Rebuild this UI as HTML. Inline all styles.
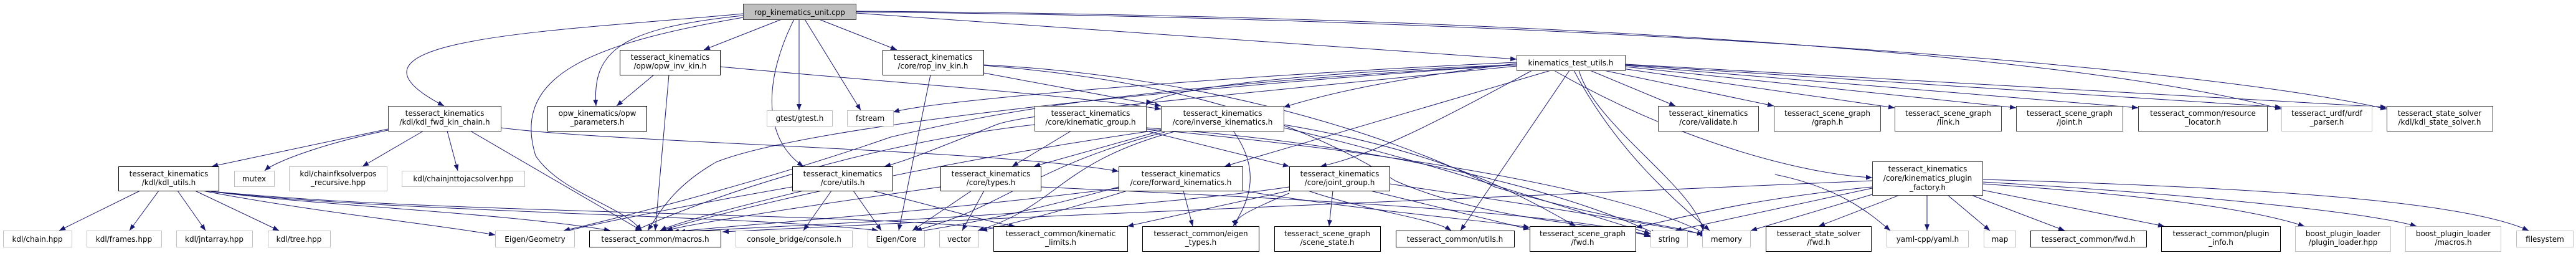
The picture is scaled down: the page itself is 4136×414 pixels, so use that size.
<!DOCTYPE html>
<html><head><meta charset="utf-8"><style>
html,body{margin:0;padding:0;background:#fff}
svg text{font-family:"DejaVu Sans","Liberation Sans",sans-serif;font-size:12px;fill:#000}
</style></head><body>
<svg width="4136" height="409" viewBox="0 0 4136 409" xmlns="http://www.w3.org/2000/svg">
<defs><marker id="a" viewBox="0 0 10 10" refX="10" refY="5" markerWidth="10" markerHeight="10" markerUnits="userSpaceOnUse" orient="auto"><path d="M0,1 L10,5 L0,9 z" fill="#191970"/></marker></defs>
<g fill="none" stroke="#191970" stroke-width="1" marker-end="url(#a)">
<!-- root -->
<path d="M1193,22 C900,50 500,60 713,170"/>
<path d="M1193,25 C1000,45 950,80 957,170"/>
<path d="M1193,28 C950,70 820,120 860,250 C900,310 1000,330 1030,370"/>
<path d="M1255,31 L1130,80"/>
<path d="M1275,31 C1230,120 1220,220 1290,267"/>
<path d="M1283,31 L1283,177"/>
<path d="M1292,31 L1382,177"/>
<path d="M1315,31 L1440,80"/>
<path d="M1374,21 L2435,95"/>
<path d="M1374,19 C2500,30 3500,100 3832,175"/>
<path d="M1374,18 C2400,25 3300,80 3663,175"/>
<!-- kdl_fwd_kin_chain -->
<path d="M623,207 L340,267"/>
<path d="M623,209 C520,230 440,260 425,274"/>
<path d="M680,210 L582,267"/>
<path d="M718,210 L735,274"/>
<path d="M755,210 L1030,370"/>
<path d="M804,205 C1000,230 1600,240 1796,275"/>
<!-- kdl_utils -->
<path d="M225,306 L95,370"/><path d="M255,306 L208,370"/><path d="M285,306 L330,370"/><path d="M313,306 L448,370"/>
<path d="M325,306 C500,340 700,360 795,377"/>
<path d="M330,306 C500,330 800,340 980,370"/>
<path d="M330,306 C600,340 1200,345 1410,370"/>
<path d="M330,306 C700,345 1400,340 1630,370"/>
<!-- opw_inv_kin -->
<path d="M1050,120 L990,170"/><path d="M1074,120 L1052,370"/>
<path d="M1156,107 C1400,130 1700,150 1864,175"/>
<!-- rop_inv_kin -->
<path d="M1494,120 L1443,370"/>
<path d="M1579,117 L1864,170"/>
<path d="M1579,105 C1900,130 2100,200 2240,290 C2400,360 2600,360 2650,380"/>
<path d="M1579,104 C1900,120 2200,200 2400,300 C2600,360 2700,360 2740,380"/>
<!-- kinematics_test_utils -->
<path d="M2435,100 C2000,120 1500,160 1434,180"/>
<path d="M2435,104 C2000,120 1850,150 1840,170"/>
<path d="M2435,102 C2200,130 2100,160 2061,172"/>
<path d="M2490,113 L1966,267"/>
<path d="M2435,106 C2000,150 1650,180 1600,200 C1500,240 1450,260 1420,267"/>
<path d="M2435,104 C1800,140 1600,180 1430,220 C1200,300 950,360 905,370"/>
<path d="M2435,104 C1900,140 1300,200 1150,260 C1080,300 1060,340 1040,370"/>
<path d="M2520,113 L2345,370"/>
<path d="M2535,113 C2560,200 2720,300 2735,370"/>
<path d="M2527,113 C2600,250 2700,330 2745,370"/>
<path d="M2553,113 L2690,170"/>
<path d="M2575,113 L2848,170"/>
<path d="M2605,110 L3042,173"/>
<path d="M2609,107 L3237,173"/>
<path d="M2609,105 L3433,173"/>
<path d="M2609,104 L3663,172"/>
<path d="M2609,103 L3832,172"/>
<path d="M2495,113 C2700,230 2900,280 3006,285"/>
<path d="M2460,113 C2300,200 2200,250 2120,267"/>
<!-- kinematic_group -->
<path d="M1720,210 L1625,267"/>
<path d="M1840,210 L2070,267"/>
<path d="M1661,200 C1400,230 1150,310 1020,370"/>
<path d="M1840,205 C2200,230 2500,300 2660,376"/>
<path d="M1840,207 C2200,240 2600,300 2740,376"/>
<!-- inverse_kinematics -->
<path d="M1864,210 L1660,267"/>
<path d="M1890,210 C1700,260 1700,330 1570,370"/>
<path d="M1870,212 C1650,270 1620,330 1470,370"/>
<path d="M1980,210 C2030,280 2000,330 1980,363"/>
<path d="M1864,208 C1500,260 1200,330 1060,370"/>
<path d="M2061,200 C2300,240 2420,300 2530,363"/>
<path d="M2061,205 C2300,260 2500,330 2650,375"/>
<!-- types -->
<path d="M1560,306 L1465,370"/><path d="M1580,306 L1545,370"/>
<path d="M1510,300 C1300,330 1100,360 1070,370"/>
<path d="M1671,300 C2100,320 2500,340 2650,378"/>
<!-- forward_kinematics -->
<path d="M1900,306 L1915,363"/>
<path d="M1810,306 C1700,340 1620,360 1575,370"/>
<path d="M1796,300 C1650,340 1550,360 1470,372"/>
<path d="M1796,302 C1500,340 1200,360 1080,372"/>
<path d="M1995,306 C2200,340 2400,355 2456,365"/>
<!-- joint_group -->
<path d="M2140,306 L2134,363"/>
<path d="M2070,306 L1810,363"/>
<path d="M2070,310 C2000,340 1980,350 1985,363"/>
<path d="M2200,306 L2456,368"/>
<path d="M2231,295 C2400,320 2600,350 2735,376"/>
<path d="M2070,300 C1800,340 1300,360 1090,372"/>
<path d="M2100,306 C2200,340 2300,350 2330,370"/>
<!-- core utils -->
<path d="M1272,300 C1100,330 950,360 905,372"/>
<path d="M1290,306 C1150,340 1080,360 1060,370"/>
<path d="M1335,306 L1290,370"/>
<path d="M1370,306 L1415,370"/>
<path d="M1400,306 C1500,330 1600,360 1630,363"/>
<!-- plugin_factory -->
<path d="M3050,313 L2920,363"/>
<path d="M3094,313 L3094,370"/>
<path d="M3127,313 L3195,370"/>
<path d="M3165,313 L3315,370"/>
<path d="M3183,305 L3475,363"/>
<path d="M3183,295 C3400,310 3600,330 3700,363"/>
<path d="M3183,292 C3500,310 3800,340 3880,363"/>
<path d="M3183,288 C3600,300 3950,320 4060,370"/>
<path d="M3006,312 L2811,370"/>
<path d="M3006,302 L2690,370"/>
<path d="M3006,300 C2800,320 2700,350 2626,365"/>
<path d="M3006,290 C2500,310 1800,340 1160,372"/>
<path d="M2850,280 C2950,300 3000,340 3035,370"/>
</g>
<g stroke-width="1">
<rect x="1193.5" y="6.5" width="181" height="25" fill="#bfbfbf" stroke="#404040"/>
<rect x="623.5" y="170.5" width="181" height="40" fill="#fff" stroke="#404040"/>
<rect x="190.5" y="267.5" width="161" height="39" fill="#fff" stroke="#000"/>
<rect x="376.5" y="274.5" width="64" height="25" fill="#fff" stroke="#bfbfbf"/>
<rect x="464.5" y="267.5" width="157" height="39" fill="#fff" stroke="#bfbfbf"/>
<rect x="645.5" y="274.5" width="197" height="25" fill="#fff" stroke="#bfbfbf"/>
<rect x="5.5" y="370.5" width="110" height="26" fill="#fff" stroke="#bfbfbf"/>
<rect x="139.5" y="370.5" width="120" height="26" fill="#fff" stroke="#bfbfbf"/>
<rect x="283.5" y="370.5" width="122" height="26" fill="#fff" stroke="#bfbfbf"/>
<rect x="430.5" y="370.5" width="100" height="26" fill="#fff" stroke="#bfbfbf"/>
<rect x="995.5" y="80.5" width="161" height="40" fill="#fff" stroke="#000"/>
<rect x="879.5" y="170.5" width="159" height="40" fill="#fff" stroke="#000"/>
<rect x="1231.5" y="177.5" width="105" height="25" fill="#fff" stroke="#bfbfbf"/>
<rect x="1360.5" y="177.5" width="74" height="25" fill="#fff" stroke="#bfbfbf"/>
<rect x="1272.5" y="267.5" width="161" height="39" fill="#fff" stroke="#000"/>
<rect x="795.5" y="370.5" width="127" height="26" fill="#fff" stroke="#bfbfbf"/>
<rect x="946.5" y="370.5" width="211" height="26" fill="#fff" stroke="#000"/>
<rect x="1181.5" y="370.5" width="187" height="26" fill="#fff" stroke="#bfbfbf"/>
<rect x="1417.5" y="80.5" width="162" height="40" fill="#fff" stroke="#000"/>
<rect x="1393.5" y="370.5" width="91" height="26" fill="#fff" stroke="#bfbfbf"/>
<rect x="1508.5" y="370.5" width="63" height="26" fill="#fff" stroke="#bfbfbf"/>
<rect x="1595.5" y="363.5" width="215" height="40" fill="#fff" stroke="#000"/>
<rect x="1834.5" y="363.5" width="187" height="40" fill="#fff" stroke="#000"/>
<rect x="2046.5" y="363.5" width="170" height="40" fill="#fff" stroke="#000"/>
<rect x="1661.5" y="170.5" width="179" height="40" fill="#fff" stroke="#404040"/>
<rect x="1864.5" y="170.5" width="197" height="40" fill="#fff" stroke="#404040"/>
<rect x="1510.5" y="267.5" width="161" height="39" fill="#fff" stroke="#000"/>
<rect x="1796.5" y="267.5" width="199" height="39" fill="#fff" stroke="#000"/>
<rect x="2070.5" y="267.5" width="161" height="39" fill="#fff" stroke="#000"/>
<rect x="2435.5" y="88.5" width="174" height="25" fill="#fff" stroke="#404040"/>
<rect x="2662.5" y="170.5" width="161" height="40" fill="#fff" stroke="#404040"/>
<rect x="2241.5" y="370.5" width="190" height="26" fill="#fff" stroke="#000"/>
<rect x="2456.5" y="363.5" width="170" height="40" fill="#fff" stroke="#000"/>
<rect x="2650.5" y="370.5" width="59" height="26" fill="#fff" stroke="#bfbfbf"/>
<rect x="2733.5" y="370.5" width="77" height="26" fill="#fff" stroke="#bfbfbf"/>
<rect x="2848.5" y="170.5" width="171" height="40" fill="#fff" stroke="#404040"/>
<rect x="3042.5" y="170.5" width="171" height="40" fill="#fff" stroke="#404040"/>
<rect x="3237.5" y="170.5" width="171" height="40" fill="#fff" stroke="#404040"/>
<rect x="3433.5" y="170.5" width="207" height="40" fill="#fff" stroke="#404040"/>
<rect x="3006.5" y="259.5" width="177" height="54" fill="#fff" stroke="#404040"/>
<rect x="2835.5" y="363.5" width="169" height="40" fill="#fff" stroke="#000"/>
<rect x="3029.5" y="370.5" width="131" height="26" fill="#fff" stroke="#bfbfbf"/>
<rect x="3185.5" y="370.5" width="51" height="26" fill="#fff" stroke="#bfbfbf"/>
<rect x="3260.5" y="370.5" width="186" height="26" fill="#fff" stroke="#000"/>
<rect x="3470.5" y="363.5" width="191" height="40" fill="#fff" stroke="#000"/>
<rect x="3663.5" y="170.5" width="145" height="40" fill="#fff" stroke="#bfbfbf"/>
<rect x="3832.5" y="170.5" width="170" height="40" fill="#fff" stroke="#404040"/>
<rect x="3685.5" y="363.5" width="153" height="40" fill="#fff" stroke="#bfbfbf"/>
<rect x="3862.5" y="363.5" width="153" height="40" fill="#fff" stroke="#bfbfbf"/>
<rect x="4040.5" y="370.5" width="91" height="26" fill="#fff" stroke="#bfbfbf"/>
</g>
<g text-anchor="middle">
<text x="1284" y="24">rop_kinematics_unit.cpp</text>
<text x="714" y="186">tesseract_kinematics</text><text x="714" y="200">/kdl/kdl_fwd_kin_chain.h</text>
<text x="271" y="283">tesseract_kinematics</text><text x="271" y="297">/kdl/kdl_utils.h</text>
<text x="408" y="291">mutex</text>
<text x="543" y="283">kdl/chainfksolverpos</text><text x="543" y="297">_recursive.hpp</text>
<text x="744" y="291">kdl/chainjnttojacsolver.hpp</text>
<text x="60" y="388">kdl/chain.hpp</text>
<text x="199" y="388">kdl/frames.hpp</text>
<text x="344" y="388">kdl/jntarray.hpp</text>
<text x="480" y="388">kdl/tree.hpp</text>
<text x="1076" y="96">tesseract_kinematics</text><text x="1076" y="110">/opw/opw_inv_kin.h</text>
<text x="959" y="186">opw_kinematics/opw</text><text x="959" y="200">_parameters.h</text>
<text x="1284" y="194">gtest/gtest.h</text>
<text x="1397" y="194">fstream</text>
<text x="1353" y="283">tesseract_kinematics</text><text x="1353" y="297">/core/utils.h</text>
<text x="859" y="388">Eigen/Geometry</text>
<text x="1052" y="388">tesseract_common/macros.h</text>
<text x="1275" y="388">console_bridge/console.h</text>
<text x="1498" y="96">tesseract_kinematics</text><text x="1498" y="110">/core/rop_inv_kin.h</text>
<text x="1439" y="388">Eigen/Core</text>
<text x="1540" y="388">vector</text>
<text x="1703" y="379">tesseract_common/kinematic</text><text x="1703" y="393">_limits.h</text>
<text x="1928" y="379">tesseract_common/eigen</text><text x="1928" y="393">_types.h</text>
<text x="2131" y="379">tesseract_scene_graph</text><text x="2131" y="393">/scene_state.h</text>
<text x="1751" y="186">tesseract_kinematics</text><text x="1751" y="200">/core/kinematic_group.h</text>
<text x="1963" y="186">tesseract_kinematics</text><text x="1963" y="200">/core/inverse_kinematics.h</text>
<text x="1591" y="283">tesseract_kinematics</text><text x="1591" y="297">/core/types.h</text>
<text x="1896" y="283">tesseract_kinematics</text><text x="1896" y="297">/core/forward_kinematics.h</text>
<text x="2151" y="283">tesseract_kinematics</text><text x="2151" y="297">/core/joint_group.h</text>
<text x="2522" y="105">kinematics_test_utils.h</text>
<text x="2743" y="186">tesseract_kinematics</text><text x="2743" y="200">/core/validate.h</text>
<text x="2336" y="388">tesseract_common/utils.h</text>
<text x="2541" y="379">tesseract_scene_graph</text><text x="2541" y="393">/fwd.h</text>
<text x="2680" y="388">string</text>
<text x="2772" y="388">memory</text>
<text x="2934" y="186">tesseract_scene_graph</text><text x="2934" y="200">/graph.h</text>
<text x="3128" y="186">tesseract_scene_graph</text><text x="3128" y="200">/link.h</text>
<text x="3323" y="186">tesseract_scene_graph</text><text x="3323" y="200">/joint.h</text>
<text x="3537" y="186">tesseract_common/resource</text><text x="3537" y="200">_locator.h</text>
<text x="3095" y="275">tesseract_kinematics</text><text x="3095" y="290">/core/kinematics_plugin</text><text x="3095" y="305">_factory.h</text>
<text x="2920" y="379">tesseract_state_solver</text><text x="2920" y="393">/fwd.h</text>
<text x="3095" y="388">yaml-cpp/yaml.h</text>
<text x="3211" y="388">map</text>
<text x="3353" y="388">tesseract_common/fwd.h</text>
<text x="3566" y="379">tesseract_common/plugin</text><text x="3566" y="393">_info.h</text>
<text x="3736" y="186">tesseract_urdf/urdf</text><text x="3736" y="200">_parser.h</text>
<text x="3917" y="186">tesseract_state_solver</text><text x="3917" y="200">/kdl/kdl_state_solver.h</text>
<text x="3762" y="379">boost_plugin_loader</text><text x="3762" y="393">/plugin_loader.hpp</text>
<text x="3939" y="379">boost_plugin_loader</text><text x="3939" y="393">/macros.h</text>
<text x="4086" y="388">filesystem</text>
</g>
</svg>
</body></html>
